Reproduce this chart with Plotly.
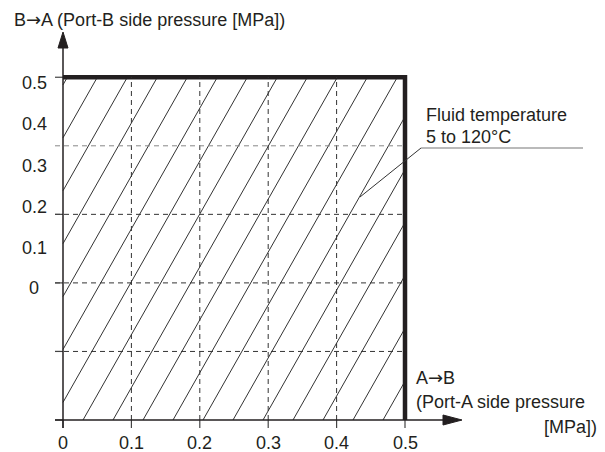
import numpy as np
import plotly.graph_objects as go

# ---------------- data ----------------
x_ticks = [0, 0.1, 0.2, 0.3, 0.4, 0.5]
x_tick_labels = ["0", "0.1", "0.2", "0.3", "0.4", "0.5"]
y_grid = [0, 0.1, 0.2, 0.3, 0.4, 0.5]
y_tick_labels = ["0.5", "0.4", "0.3", "0.2", "0.1", "0"]
region_x = [0, 0.5]          # allowed Port-A pressure range
region_y = [0, 0.5]          # allowed Port-B pressure range
ARROW = '<span style="font-family:DejaVu Sans">→</span>'
y_axis_title = "B" + ARROW + "A (Port-B side pressure [MPa])"
x_axis_title = ["A" + ARROW + "B", "(Port-A side pressure", "[MPa])"]
note_lines = ["Fluid temperature", "5 to 120°C"]

# ---------------- layout helpers (pixel geometry) ----------------
W, H = 605, 452
OX, OY = 63, 420          # pixel of data origin
SX, SY = 684.0, 685.5     # pixels per data unit


def dx(p):  # pixel x -> data x
    return (p - OX) / SX


def dy(p):  # pixel y -> data y
    return (OY - p) / SY


INK = "#231f20"
FONT = dict(family="Liberation Sans, Arial, sans-serif", size=18, color=INK)

fig = go.Figure()
shapes = []
annotations = []

# ---- hatch lines (clipped to region) ----
slope = 1.76
spacing = 30 / SX
start = dx(83)
hx, hy = [], []
x0r, x1r = region_x
y0r, y1r = region_y
k = -12
while True:
    b = start + k * spacing  # x-intercept on y=0
    k += 1
    if b >= x1r:
        break
    xa = max(x0r, b)
    ya = slope * (xa - b)
    if ya > y1r:
        continue
    ya = max(ya, y0r)
    xb = min(x1r, b + y1r / slope)
    yb = slope * (xb - b)
    hx += [xa, xb, None]
    hy += [ya, yb, None]
fig.add_trace(go.Scatter(x=hx, y=hy, mode="lines",
                         line=dict(color="#333333", width=1),
                         hoverinfo="skip"))

# ---- grid lines ----
for v in x_ticks[1:-1]:
    shapes.append(dict(type="line", x0=v, x1=v, y0=region_y[0], y1=region_y[1],
                       line=dict(color="#333333", width=1, dash="5px,4px")))
for v in y_grid[1:-1]:
    col = "#888888" if abs(v - 0.4) < 1e-9 else "#333333"
    shapes.append(dict(type="line", x0=dx(55), x1=region_x[1], y0=v, y1=v,
                       line=dict(color=col, width=1, dash="5px,4px")))

# ---- ticks ----
for v in x_ticks:
    shapes.append(dict(type="line", x0=v, x1=v, y0=dy(OY + 8), y1=0,
                       line=dict(color="#444444", width=1.2)))
for v in y_grid:
    if abs(v - 0.4) < 1e-9:
        continue
    shapes.append(dict(type="line", x0=dx(55), x1=0, y0=v, y1=v,
                       line=dict(color="#444444", width=1.2)))

# ---- axes lines ----
shapes.append(dict(type="line", x0=0, x1=0, y0=dy(OY + 8), y1=dy(46),
                   line=dict(color=INK, width=1.5)))
shapes.append(dict(type="line", x0=dx(55), x1=dx(446), y0=0, y1=0,
                   line=dict(color=INK, width=1.5)))

# arrowheads (filled triangles)
fig.add_trace(go.Scatter(x=[dx(OX - 5), dx(OX + 5), dx(OX), dx(OX - 5)],
                         y=[dy(48), dy(48), dy(32), dy(48)],
                         mode="lines", fill="toself", fillcolor=INK,
                         line=dict(color=INK, width=1), hoverinfo="skip"))
fig.add_trace(go.Scatter(x=[dx(443), dx(443), dx(462), dx(443)],
                         y=[dy(OY - 5), dy(OY + 5), dy(OY), dy(OY - 5)],
                         mode="lines", fill="toself", fillcolor=INK,
                         line=dict(color=INK, width=1), hoverinfo="skip"))

# ---- thick boundary ----
fig.add_trace(go.Scatter(x=[region_x[0], region_x[1], region_x[1]],
                         y=[region_y[1], region_y[1], region_y[0]],
                         mode="lines", line=dict(color=INK, width=4.5),
                         hoverinfo="skip"))

# ---- leader lines for note ----
shapes.append(dict(type="line", x0=dx(421), y0=dy(148), x1=dx(360), y1=dy(197),
                   line=dict(color="#333333", width=1)))
shapes.append(dict(type="line", x0=dx(421), y0=dy(148), x1=dx(583), y1=dy(148),
                   line=dict(color="#777777", width=1.2)))

# ---- tick labels ----
for v, t in zip(x_ticks, x_tick_labels):
    annotations.append(dict(x=v, y=dy(443), text=t, showarrow=False,
                            xanchor="center", yanchor="middle", font=FONT))
y_label_px = [83, 124, 166, 207, 248, 288]
for t, p in zip(y_tick_labels, y_label_px):
    annotations.append(dict(x=dx(34), y=dy(p), text=t, showarrow=False,
                            xanchor="center", yanchor="middle", font=FONT))

# ---- titles ----
annotations.append(dict(x=dx(12), y=dy(19), text=y_axis_title, showarrow=False,
                        xanchor="left", yanchor="middle", font=FONT))
annotations.append(dict(x=dx(414), y=dy(377), text=x_axis_title[0], showarrow=False,
                        xanchor="left", yanchor="middle", font=FONT))
annotations.append(dict(x=dx(414), y=dy(402), text=x_axis_title[1], showarrow=False,
                        xanchor="left", yanchor="middle", font=FONT))
annotations.append(dict(x=dx(599), y=dy(427), text=x_axis_title[2], showarrow=False,
                        xanchor="right", yanchor="middle", font=FONT))
annotations.append(dict(x=dx(424), y=dy(115), text=note_lines[0], showarrow=False,
                        xanchor="left", yanchor="middle", font=FONT))
annotations.append(dict(x=dx(424), y=dy(137), text=note_lines[1], showarrow=False,
                        xanchor="left", yanchor="middle", font=FONT))

fig.update_layout(
    width=W, height=H,
    margin=dict(l=0, r=0, t=0, b=0),
    paper_bgcolor="white", plot_bgcolor="white",
    showlegend=False,
    xaxis=dict(range=[dx(0), dx(W)], visible=False, fixedrange=True),
    yaxis=dict(range=[dy(H), dy(0)], visible=False, fixedrange=True),
    shapes=shapes,
    annotations=annotations,
)

fig.write_html("out.html", config=dict(displayModeBar=False),
               post_script="document.body.style.margin='0';")
